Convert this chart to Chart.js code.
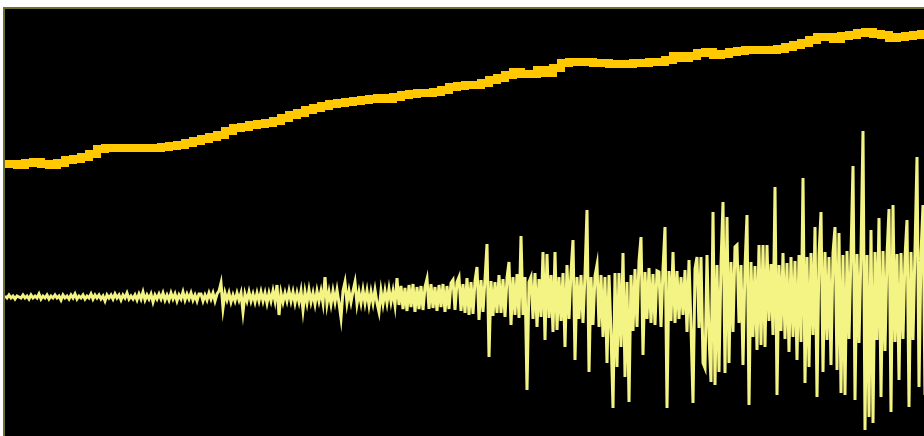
<!DOCTYPE html>
<html>
<head>
<meta charset="utf-8">
<script src="https://cdn.jsdelivr.net/npm/chart.js@4.4.1/dist/chart.umd.min.js"></script>
<style>
html,body{margin:0;padding:0;background:#fff;overflow:hidden}
canvas{display:block}
</style>
</head>
<body>
<canvas id="myChart" width="924" height="436"></canvas>
<script>
// daily returns in % (one value per trading day)
let returns = [
 // quiet start
 0.1,-0.1,0.2,-0.1,0.1,-0.2,0.1,0,-0.1,0.2, -0.1,0.1,-0.2,0.2,-0.1,0.1,-0.1,0.3,-0.2,0.1,
 -0.1,0.2,-0.2,0.1,-0.1,0.2,-0.1,0.1,-0.3,0.2, -0.1,0.1,-0.2,0.2,-0.1,0.3,-0.2,0.1,-0.1,0.2,
 -0.2,0.1,-0.1,0.3,-0.2,0.2,-0.1,0.2,-0.2,0.1, -0.4,0.2,-0.1,0.2,-0.2,0.3,-0.1,0.2,-0.3,0.2,
 -0.1,0.4,-0.2,0.1,-0.2,0.2,-0.3,0.3,-0.2,0.5, -0.3,0.2,-0.2,0.3,-0.5,0.2,-0.2,0.3,-0.2,0.4,
 -0.3,0.2,-0.3,0.4,-0.2,0.3,-0.4,0.2,-0.2,0.5, -0.3,0.3,-0.2,0.4,-0.3,0.2,-0.4,0.3,
 0.3,-0.4,0.2,-0.3,0.4,-0.2,0.4,-0.4,0.3,0.6, 1.4,-1.1,0.4,-0.3,0.4,-0.5,0.2,-0.4,0.4,-0.3,
 0.4,-1.5,0.3,-0.4,0.5,-0.4,0.3,-0.5,0.4,-0.4, 0.5,-0.4,0.4,-0.6,0.4,-0.4,0.6,-0.4,1.2,-1.8,
 0.4,-0.5,0.4,-0.4,0.6,-0.4,0.5,-0.6,0.4,-0.5,
 0.6,-1.3,0.5,-0.6,0.7,-0.5,0.4,-0.7,0.6,-0.4, 0.6,-0.6,2.0,-0.7,0.5,-0.7,0.6,-0.5,0.7,-0.6,
 -2.1,0.6,1.5,-0.6,0.6,-0.5,0.6,1.5,-0.7,0.5, -0.6,0.7,-0.6,0.6,-0.8,0.5,-0.6,0.7,-0.6,-1.5,
 0.6,-0.7,0.6,-0.6,0.8,-0.5,0.6,-0.8,1.9,-0.8,
 // volatility picks up
 1.1,-1.2,0.9,-1.4,1.2,-1.0,1.3,-1.5,1.0,-1.2, 1.1,-1.3,1.0,1.8,-1.2,1.3,-1.1,1.0,-1.4,1.2,
 -1.0,1.3,-1.5,1.1,-1.2,1.4,1.7,-1.3,1.5,2.0, -1.4,1.3,-1.6,1.9,-1.8,1.5,-1.7,1.6,3.0,-2.3,
 1.7,-1.5,1.8,5.3,-6.0,1.6,-1.9,1.5,-1.6,2.2, -1.6,1.8,-2.0,1.9,3.5,-2.8,2.0,-1.8,2.3,-2.1,
 6.1,-1.8,2.0,-9.3,1.5,
 2.0,-2.2,2.4,-3.0,1.8,-2.0,4.5,-4.3,4.3,-2.1, 2.2,-3.5,4.5,-3.3,2.0,-2.4,2.4,-5.0,3.2,-2.2,
 2.5,5.7,-6.3,2.0,-2.2,2.2,-2.6,2.3,8.7,-7.5, 2.0,-2.8,2.1,3.2,-3.0,2.2,-4.0,2.0,-6.6,2.2,
 -3.6,-11.1,2.4,-7.0,2.4,-5.0,4.4,-8.0,1.5,-10.5, 2.2,-3.4,2.8,-3.0,3.6,6.0,-5.8,2.5,-2.2,2.9,
 -2.6,2.3,-2.8,2.6,
 // wild finish
 2.5,-3.0,2.8,7.0,-11.1,2.6,-2.4,4.5,-2.6,2.6, -2.2,2.0,-1.8,2.7,-3.5,3.7,-3.0,-10.6,2.8,4.0,
 -3.1,4.0,-6.6,-7.1,4.2,-4.0,-8.5,8.5,-8.8,3.2, -7.5,3.4,9.5,-7.6,8.0,-6.6,3.5,-3.5,5.0,5.2,
 -2.6,3.2,-6.8,3.0,8.2,-10.8,3.5,-4.0,3.1,-5.3, 5.2,-4.8,5.2,-5.0,5.2,-2.4,3.3,-3.8,11.0,-9.8,
 3.2,-3.4,4.4,-4.2,3.4,-5.5,
 4.0,-4.0,3.6,-6.3,4.2,-4.5,11.9,-8.6,4.0,-7.0, 4.4,-3.8,7.0,-10.0,4.2,8.5,-7.5,4.5,-4.3,4.0,
 -6.8,4.4,7.0,-7.3,6.4,-9.6,4.2,-9.8,4.6,-4.2, 4.4,13.1,-10.3,4.3,-4.6,4.5,16.6,-13.3,4.2,-12.0,
 6.7,-12.6,4.5,-4.3,7.9,-10.0,4.6,-5.4,4.2,8.8, -11.5,9.2,-4.5,4.3,-8.3,4.4,-4.2,4.0,7.7,-11.0,
 4.5,-4.3,4.8,14.0,-9.0,4.4,9.2,-9.8
]

// closing price, sampled every fourth day
let prices = [
 68, 68, 67.75, 68.25, 68.5, 68, 67.75, 68.25, 69, 69.25,
 69.75, 70.5, 71.75, 72, 72, 72, 72, 72, 72, 72,
 72.25, 72.5, 72.75, 73.25, 73.75, 74.25, 74.75, 75.25, 76.25, 77,
 77.25, 77.75, 78, 78.25, 78.75, 79.5, 80.25, 80.75, 81.5, 82,
 82.5, 83, 83.25, 83.5, 83.75, 84, 84.25, 84.5, 84.25, 84.75,
 85.25, 85.5, 85.75, 85.75, 86, 86.5, 87.25, 87.5, 87.75, 87.75,
 88.25, 89, 89.5, 90.25, 91, 90.5, 90.5, 91.5, 90.75, 92,
 93.25, 93.5, 93.5, 93.5, 93.25, 93.25, 93, 93, 93, 93.25,
 93.25, 93.5, 93.5, 94, 95, 94.5, 95, 95.75, 96, 95.25,
 95.5, 96, 96.25, 96.5, 96.5, 96.5, 96.5, 96.75, 97.25, 97.75,
 98.25, 99, 99.75, 99.75, 99.25, 100, 100.25, 100.75, 101, 100.5,
 100.25, 99.5, 99.75, 100, 100.25, 100.5
]
let priceStep = 4

const plotBg = {
  id: 'plotBg',
  beforeDraw(chart) {
    const {ctx, chartArea: a} = chart
    ctx.save()
    ctx.fillStyle = '#000'
    ctx.fillRect(a.left, a.top, a.right - a.left, a.bottom - a.top)
    ctx.restore()
  },
  afterDraw(chart) {
    const {ctx, chartArea: a} = chart
    ctx.save()
    ctx.fillStyle = '#70702c'
    ctx.fillRect(a.left - 1, a.top - 1, a.right - a.left + 1, 2)
    ctx.fillRect(a.left - 1, a.top - 1, 2, a.bottom - a.top + 1)
    ctx.restore()
  }
}

const data = {
  datasets: [{
    label: 'Return',
    data: returns.map((v, i) => ({x: i, y: v})),
    yAxisID: 'yRet',
    borderColor: '#f4f484',
    borderWidth: 3,
    pointRadius: 0,
    tension: 0
  }, {
    label: 'Price',
    data: prices.map((v, i) => ({x: i * priceStep, y: v})),
    yAxisID: 'yPrice',
    borderColor: '#ffc800',
    borderWidth: 8,
    stepped: 'middle',
    pointRadius: 0,
    tension: 0
  }]
}

const config = {
  type: 'line',
  data,
  options: {
    responsive: false,
    animation: false,
    devicePixelRatio: 1,
    layout: {padding: {top: 8, left: 4, right: 0, bottom: 0}},
    plugins: {legend: {display: false}, tooltip: {enabled: false}},
    scales: {
      x: {type: 'linear', min: -0.5, max: 459.5, display: false},
      yRet: {min: -13.9, max: 28.9, display: false},
      yPrice: {min: 0, max: 107, display: false}
    }
  },
  plugins: [plotBg]
}

var myChart = new Chart(document.getElementById('myChart'), config)
</script>
</body>
</html>
